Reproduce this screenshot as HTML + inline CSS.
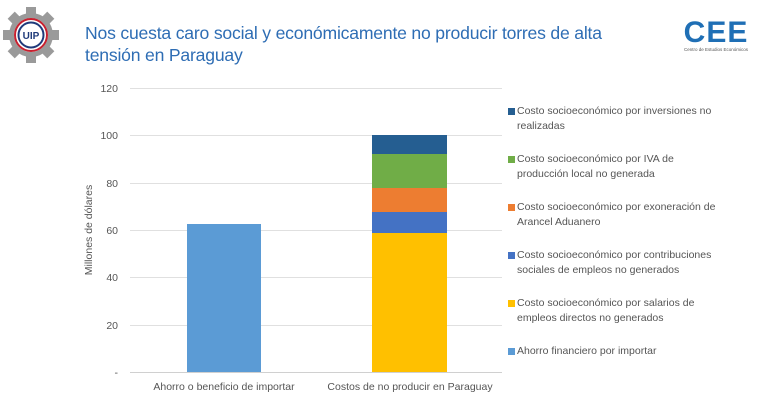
<!DOCTYPE html>
<html><head><meta charset="utf-8"><style>
body{margin:0;width:770px;height:417px;background:#fff;overflow:hidden;font-family:"Liberation Sans",sans-serif;position:relative}
.t{position:absolute;left:85px;top:22px;font-size:17.6px;line-height:22px;color:#2e6db4;letter-spacing:-0.2px}
.lg{position:absolute;left:517px;font-size:10.5px;line-height:15px;color:#555;width:230px}
.lg i{position:absolute;left:-9px;top:4px;width:7px;height:7px}
</style></head><body>
<svg width="770" height="417" style="position:absolute;left:0;top:0">
<g transform="translate(31,35)">
<circle r="22" fill="#9a9a9a"/>
<g fill="#9a9a9a">
<rect x="-5" y="-28" width="10" height="56"/><rect x="-28" y="-5" width="56" height="10"/>
<rect x="-5" y="-28" width="10" height="56" transform="rotate(45)"/><rect x="-5" y="-28" width="10" height="56" transform="rotate(-45)"/>
</g>
<circle r="17" fill="#fff"/><circle r="16" fill="none" stroke="#c8202f" stroke-width="2"/>
<circle r="12.5" fill="#fff" stroke="#1f3a7a" stroke-width="2"/>
<text x="0" y="4" font-size="10" font-weight="bold" text-anchor="middle" fill="#1f3a7a" font-family="Liberation Sans">UIP</text>
</g>
<text x="716" y="42" font-size="30" font-weight="bold" text-anchor="middle" fill="#1f6fb5" font-family="Liberation Sans" letter-spacing="1">CEE</text>
<text x="716" y="51" font-size="4.5" text-anchor="middle" fill="#555" font-family="Liberation Sans">Centro de Estudios Económicos</text>
<g stroke="#e0e0e0" stroke-width="1">
<line x1="130" x2="502" y1="88.5" y2="88.5"/><line x1="130" x2="502" y1="135.5" y2="135.5"/>
<line x1="130" x2="502" y1="183.5" y2="183.5"/><line x1="130" x2="502" y1="230.5" y2="230.5"/>
<line x1="130" x2="502" y1="277.5" y2="277.5"/><line x1="130" x2="502" y1="325.5" y2="325.5"/>
<line x1="130" x2="502" y1="372.5" y2="372.5" stroke="#d0d0d0"/>
</g>
<g font-size="10.5" fill="#555" text-anchor="end" font-family="Liberation Sans">
<text x="118" y="92">120</text><text x="118" y="139">100</text><text x="118" y="187">80</text>
<text x="118" y="234">60</text><text x="118" y="281">40</text><text x="118" y="329">20</text><text x="118" y="376">-</text>
</g>
<text transform="translate(92,230) rotate(-90)" font-size="10.5" fill="#555" text-anchor="middle" font-family="Liberation Sans">Millones de dólares</text>
<rect x="187" y="224" width="74" height="148" fill="#5b9bd5"/>
<rect x="372" y="233" width="75" height="139" fill="#ffc000"/>
<rect x="372" y="212" width="75" height="21" fill="#4472c4"/>
<rect x="372" y="188" width="75" height="24" fill="#ed7d31"/>
<rect x="372" y="154" width="75" height="34" fill="#70ad47"/>
<rect x="372" y="135" width="75" height="19" fill="#255e91"/>
<g font-size="10.5" fill="#555" text-anchor="middle" font-family="Liberation Sans">
<text x="224" y="390">Ahorro o beneficio de importar</text>
<text x="410" y="390">Costos de no producir en Paraguay</text>
</g>
</svg>
<div class="t">Nos cuesta caro social y económicamente no producir torres de alta<br>tensión en Paraguay</div>
<div class="lg" style="top:104px"><i style="background:#255e91"></i>Costo socioeconómico por inversiones no<br>realizadas</div>
<div class="lg" style="top:152px"><i style="background:#70ad47"></i>Costo socioeconómico por IVA de<br>producción local no generada</div>
<div class="lg" style="top:200px"><i style="background:#ed7d31"></i>Costo socioeconómico por exoneración de<br>Arancel Aduanero</div>
<div class="lg" style="top:248px"><i style="background:#4472c4"></i>Costo socioeconómico por contribuciones<br>sociales de empleos no generados</div>
<div class="lg" style="top:296px"><i style="background:#ffc000"></i>Costo socioeconómico por salarios de<br>empleos directos no generados</div>
<div class="lg" style="top:344px"><i style="background:#5b9bd5"></i>Ahorro financiero por importar</div>
</body></html>
